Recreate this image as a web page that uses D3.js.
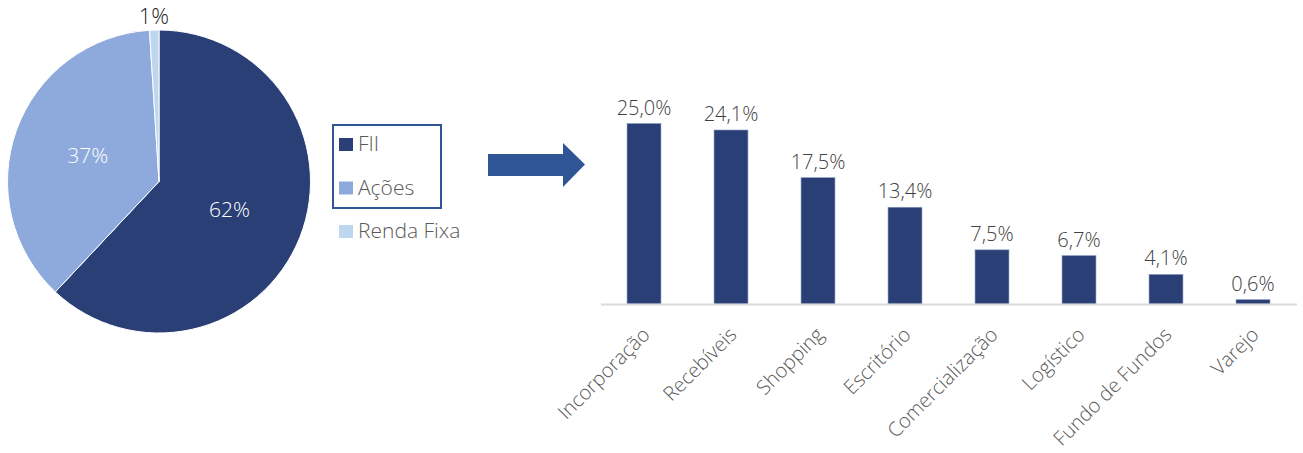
<!DOCTYPE html>
<html>
<head>
<meta charset="utf-8">
<script src="https://cdn.jsdelivr.net/npm/d3@7"></script>
<style>
  body { margin: 0; background: #fff; }
  svg { display: block; font-family: "Open Sans", "Noto Sans", sans-serif; font-weight: 300; }
</style>
</head>
<body>
<svg width="1303" height="453"></svg>
<script>
// pie: allocation by asset class
const classes = ['FII', 'Ações', 'Renda Fixa'];
const classShares = [62, 37, 1];
const classColors = ['#2a3f75', '#8eaadc', '#bdd7ee'];

// bars: FII allocation by segment (%)
const segments = ['Incorporação', 'Recebíveis', 'Shopping', 'Escritório',
  'Comercialização', 'Logístico', 'Fundo de Fundos', 'Varejo'];
const segmentShares = [25.0, 24.1, 17.5, 13.4, 7.5, 6.7, 4.1, 0.6];

const svg = d3.select('svg');
const fmt = v => v.toFixed(1).replace('.', ',') + '%';

// ---- pie ----
const cx = 159, cy = 181.5, r = 151.5;
const pieG = svg.append('g').attr('transform', `translate(${cx}, ${cy})`);
const pie = d3.pie().sort(null).value(d => d.v);
const arcs = pie(classes.map((c, i) => ({ c, v: classShares[i], col: classColors[i] })));
const arc = d3.arc().innerRadius(0).outerRadius(r);
const labelArc = d3.arc().innerRadius(r * 0.5).outerRadius(r * 0.5);
const outerArc = d3.arc().innerRadius(r + 14).outerRadius(r + 14);

pieG.selectAll('path').data(arcs)
  .enter().append('path')
  .attr('d', arc)
  .attr('fill', d => d.data.col)
  .attr('stroke', '#fff')
  .attr('stroke-width', 1);

pieG.selectAll('text').data(arcs)
  .enter().append('text')
  .attr('transform', d => {
    const p = d.data.v < 5 ? outerArc.centroid(d) : labelArc.centroid(d);
    return `translate(${p[0]}, ${p[1]})`;
  })
  .attr('text-anchor', 'middle')
  .attr('dy', '0.36em')
  .attr('font-size', d => d.data.v < 5 ? 22 : 21)
  .attr('fill', d => d.data.v < 5 ? '#262626' : '#fff')
  .text(d => d.data.v + '%');

// ---- legend ----
const legend = svg.append('g');
legend.append('rect')
  .attr('x', 333).attr('y', 125).attr('width', 108).attr('height', 83)
  .attr('fill', 'none').attr('stroke', '#2f5597').attr('stroke-width', 2);
const items = legend.selectAll('g.item').data(classes)
  .enter().append('g')
  .attr('transform', (d, i) => `translate(339, ${138 + i * 43.5})`);
items.append('rect')
  .attr('width', 14).attr('height', 13)
  .attr('fill', (d, i) => classColors[i]);
items.append('text')
  .attr('x', 19).attr('y', 13)
  .attr('font-size', 21)
  .attr('fill', '#595959')
  .text(d => d);

// ---- arrow ----
svg.append('path')
  .attr('d', 'M488,154 L563,154 L563,143 L585,164.5 L563,187 L563,176 L488,176 Z')
  .attr('fill', '#2f5597');

// ---- bars ----
const x = d3.scaleBand()
  .domain(segments)
  .range([600.5, 1296.5])
  .paddingInner(0.61)
  .paddingOuter(0.305);
const y = d3.scaleLinear()
  .domain([0, 25])
  .range([304, 123.5]);

const barG = svg.append('g');
barG.selectAll('rect').data(segments)
  .enter().append('rect')
  .attr('x', d => x(d))
  .attr('y', (d, i) => y(segmentShares[i]))
  .attr('width', x.bandwidth())
  .attr('height', (d, i) => y(0) - y(segmentShares[i]))
  .attr('fill', '#2a3f75')
  .attr('stroke', '#8a9cc0')
  .attr('stroke-width', 0.6);

barG.selectAll('text.val').data(segments)
  .enter().append('text')
  .attr('class', 'val')
  .attr('x', d => x(d) + x.bandwidth() / 2)
  .attr('y', (d, i) => y(segmentShares[i]) - 9)
  .attr('text-anchor', 'middle')
  .attr('font-size', 20)
  .attr('fill', '#404040')
  .text((d, i) => fmt(segmentShares[i]));

const xAxis = d3.axisBottom(x).tickSize(0).tickSizeOuter(0).tickPadding(0);
const xAxisG = svg.append('g')
  .attr('transform', `translate(0, ${y(0)})`)
  .call(xAxis);
xAxisG.select('.domain').attr('stroke', '#d9d9d9').attr('stroke-width', 2);
xAxisG.selectAll('.tick text')
  .attr('font-family', '"Open Sans", "Noto Sans", sans-serif')
  .attr('font-size', 20)
  .attr('fill', '#595959')
  .attr('text-anchor', 'end')
  .attr('dy', '0.35em')
  .attr('y', 0)
  .attr('transform', 'translate(2, 27) rotate(-45)');
</script>
</body>
</html>
